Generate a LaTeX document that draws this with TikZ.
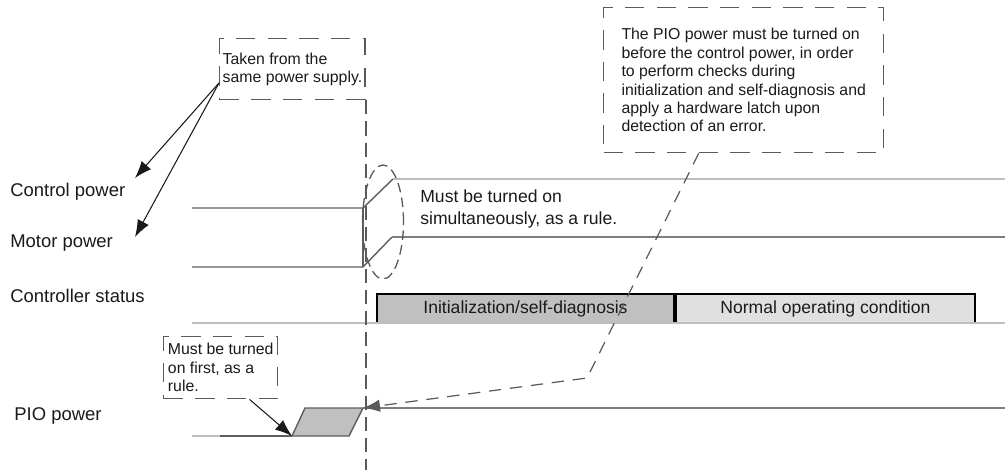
\documentclass[tikz,border=0pt]{standalone}
\usepackage{fontspec}
\setmainfont{Liberation Sans}
\usetikzlibrary{arrows.meta,positioning,calc}
\definecolor{Ink}{HTML}{1A1A1A}
\definecolor{Trace}{HTML}{5E5E5E}
\definecolor{TraceSoft}{HTML}{BEBEBE}
\definecolor{TraceMid}{HTML}{7E7E7E}
\definecolor{Dash}{HTML}{5A5A5A}
\definecolor{InitFill}{HTML}{C0C0C0}
\definecolor{RunFill}{HTML}{E0E0E0}
\tikzset{
  signame/.style={anchor=west,inner sep=0pt,text=Ink,font=\fontsize{10.5}{12.5}\selectfont},
  note/.style={draw=Dash,dash pattern=on 11pt off 7pt,line width=.8pt,anchor=north west,align=left,inner xsep=.6mm,inner ysep=0pt,text=Ink,font=\fontsize{9}{10.5}\selectfont},
  phase/.style={draw=black,line width=1.1pt,minimum height=5.8mm,anchor=north west,inner sep=0pt,text=Ink,font=\fontsize{10}{12}\selectfont},
  trace/.style={draw=Trace,line width=.8pt},
  pointer/.style={-{Latex[length=3.4mm,width=2.5mm]},draw=Ink,line width=.6pt},
  guide/.style={draw=Dash,dash pattern=on 8pt off 4pt,line width=.8pt}
}
\begin{document}
\begin{tikzpicture}[x=0.2mm,y=-0.2mm]
  \useasboundingbox (0,0) rectangle (1005,470);
  \node[signame] (ctrlname) at (10,192) {Control power};
  \node[signame] (motorname) at (10,243) {Motor power};
  \node[signame] (statusname) at (10,296) {Controller status};
  \node[signame] (pioname) at (14,416) {PIO power};
  \node[note,minimum width=28.6mm,minimum height=12.2mm] (supply) at (219,38) {Taken from the\\same power supply.};
  \node[note,minimum width=56mm,minimum height=29mm,inner xsep=2.8mm] (bignote) at (603,7) {The PIO power must be turned on\\before the control power, in order\\to perform checks during\\initialization and self-diagnosis and\\apply a hardware latch upon\\detection of an error.};
  \node[note,minimum width=22.8mm,minimum height=12.4mm] (firstnote) at (163,336) {Must be turned\\on first, as a\\rule.};
  \node[anchor=west,inner sep=0pt,align=left,text=Ink,font=\fontsize{10}{12.5}\selectfont] (simul) at (420,209) {Must be turned on\\simultaneously, as a rule.};
  \node[phase,fill=InitFill,minimum width=59.4mm] (initphase) at (376,293) {Initialization/self-diagnosis};
  \node[phase,fill=RunFill,minimum width=59.8mm,right=0pt of initphase] (runphase) {Normal operating condition};
  \coordinate (ctrltip) at (135,178);
  \coordinate (motortip) at (135,237);
  \coordinate (floor) at (363,470);
  \coordinate (pioramp) at (292,436);
  \coordinate (pioup) at (363,408);
  \coordinate (bend) at (587,378);
  % signal traces
  \draw[trace] (192,208) -- (363,208) -- (393,179);
  \draw[TraceSoft,line width=.8pt] (393,179) -- (1005,179);
  \draw[trace] (192,267) -- (363,267) -- (392,237);
  \draw[TraceMid,line width=.8pt] (392,237) -- (1005,237);
  \draw[trace] (363,208) -- (363,267);
  \draw[TraceSoft,line width=.8pt] (192,323) -- (1005,323);
  \draw[TraceSoft,line width=.8pt] (192,436) -- (220,436);
  \draw[trace] (220,436) -- (pioramp);
  \draw[trace,fill=InitFill] (pioramp) -- (305,408) -- (pioup) -- (349,436) -- cycle;
  \draw[TraceMid,line width=.8pt] (pioup) -- (1005,408);
  \draw[guide] (supply.south east) -- (supply.south east |- floor);
  \draw[draw=Dash,dash pattern=on 5.5pt off 3pt,line width=.75pt] (383,222) ellipse [x radius=4.1mm,y radius=11.4mm];
  % callouts
  \draw[pointer] ($(supply.south west)!.28!(supply.north west)$) -- (ctrltip);
  \draw[pointer] ($(supply.south west)!.28!(supply.north west)$) -- (motortip);
  \draw[pointer] ($(firstnote.south west)!.75!(firstnote.south east)$) -- (pioramp);
  \draw[pointer,draw=Dash,line width=.7pt,dash pattern=on 7pt off 5pt] ($(bignote.south west)!.34!(bignote.south east)$) -- (bend) -- (pioup);
\end{tikzpicture}
\end{document}
